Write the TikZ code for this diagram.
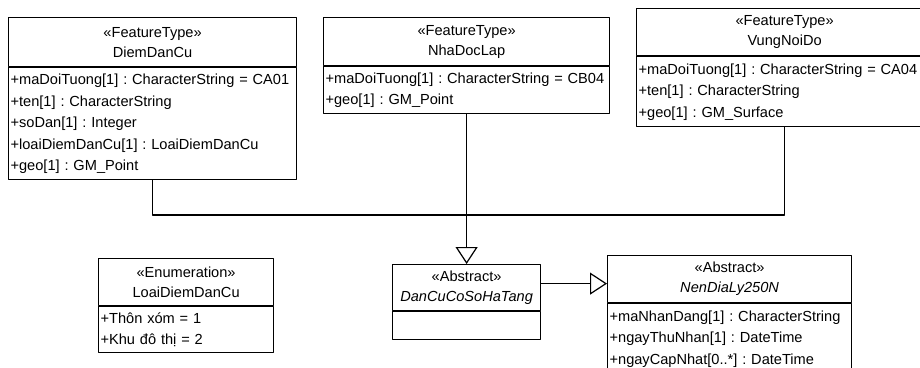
\documentclass[tikz,border=0pt]{standalone}
\usepackage{fontspec}
\setmainfont{Liberation Sans}
\usetikzlibrary{arrows.meta}
\frenchspacing
\begin{document}
\begin{tikzpicture}[x=1pt,y=-1pt,line width=1.2pt,line join=round,
 font=\fontsize{14.6}{21.5}\selectfont,
 head/.style={draw,anchor=north west,align=center,inner sep=0pt,font=\fontsize{14.6}{20}\selectfont},
 body/.style={draw,anchor=north west,align=left,inner xsep=2pt,inner ysep=0pt},
 gen/.style={-{Triangle[open,length=17pt,width=22pt]}}]
 \useasboundingbox (0,0) rectangle (920,367);
 \clip (0,0) rectangle (920,367);
 % feature types
 \node[head,minimum width=288pt,minimum height=49pt] (ddh) at (8,17) {«FeatureType»\\DiemDanCu};
 \node[body,text width=284pt,minimum height=112pt] (ddb) at (ddh.south west)
 {+maDoiTuong[1] : CharacterString = CA01\\+ten[1] : CharacterString\\+soDan[1] : Integer\\+loaiDiemDanCu[1] : LoaiDiemDanCu\\+geo[1] : GM\_Point};
 \node[head,minimum width=286pt,minimum height=48pt] (ndh) at (323,17) {«FeatureType»\\NhaDocLap};
 \node[body,text width=282pt,minimum height=47pt] (ndb) at (ndh.south west)
 {+maDoiTuong[1] : CharacterString = CB04\\+geo[1] : GM\_Point};
 \node[head,minimum width=296pt,minimum height=47pt] (vnh) at (636,8) {«FeatureType»\\VungNoiDo};
 \node[body,text width=292pt,minimum height=70pt] (vnb) at (vnh.south west)
 {+maDoiTuong[1] : CharacterString = CA04\\+ten[1] : CharacterString\\+geo[1] : GM\_Surface};
 % enumeration
 \node[head,minimum width=175pt,minimum height=47pt] (ldh) at (98,258) {«Enumeration»\\LoaiDiemDanCu};
 \node[body,text width=171pt,minimum height=46pt] (ldb) at (ldh.south west)
 {+Thôn xóm = 1\\+Khu đô thị = 2};
 % abstract classes
 \node[head,minimum width=148pt,minimum height=46pt] (dch) at (392,264) {«Abstract»\\\textit{DanCuCoSoHaTang}};
 \node[body,text width=144pt,minimum height=28pt] (dcb) at (dch.south west) {};
 \node[head,minimum width=244pt,minimum height=47pt] (nlh) at (607,255) {«Abstract»\\\textit{NenDiaLy250N}};
 \node[body,text width=240pt,minimum height=70pt] (nlb) at (nlh.south west)
 {+maNhanDang[1] : CharacterString\\+ngayThuNhan[1] : DateTime\\+ngayCapNhat[0..*] : DateTime};
 % generalisations
 \coordinate (lv) at (0,215);
 \draw (ddb.south) |- (lv -| ndb.south);
 \draw (vnb.south) |- (lv -| ndb.south);
 \draw[gen] (ndb.south) -- (dch.north);
 \draw[gen] ([yshift=4pt]dch.east) -- ([yshift=4pt]dch.east -| nlh.west);
\end{tikzpicture}
\end{document}
